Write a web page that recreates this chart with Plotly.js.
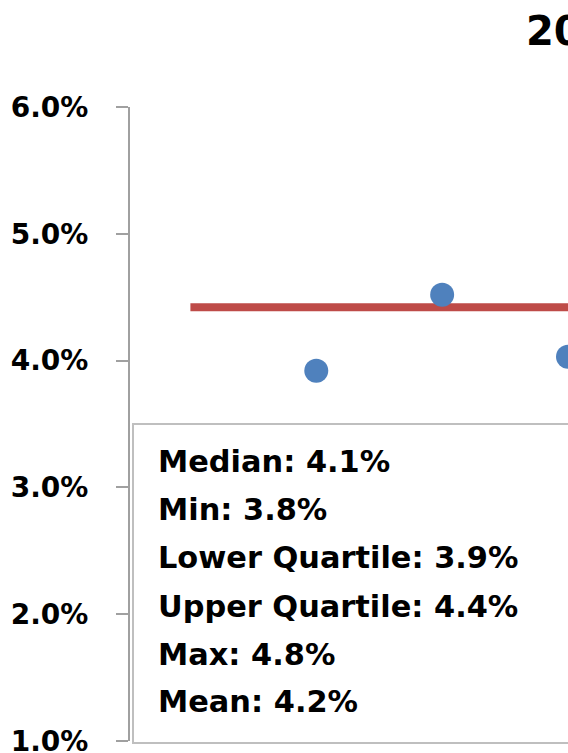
<!DOCTYPE html>
<html>
<head>
<meta charset="utf-8">
<script src="https://cdn.plot.ly/plotly-3.0.1.min.js"></script>
<style>
  html, body { margin: 0; padding: 0; overflow: hidden; background: #fff; }
  #chart { width: 568px; height: 753px; }
</style>
</head>
<body>
<div id="chart"></div>
<script>
// ---- data ----
var titleText = "20";
var pointX = [1, 2, 3];
var pointY = [3.92, 4.52, 4.03];
var lineX = [0, 3.6];
var lineY = [4.42, 4.42];
var tickVals = [1, 2, 3, 4, 5, 6];
var tickText = ["1.0%", "2.0%", "3.0%", "4.0%", "5.0%", "6.0%"];
var statLabels = ["Median", "Min", "Lower Quartile", "Upper Quartile", "Max", "Mean"];
var statValues = [4.1, 3.8, 3.9, 4.4, 4.8, 4.2];

// ---- layout helpers (pixel -> paper) ----
var W = 568, H = 753;
var mL = 130, mR = 0, mT = 107, mB = 12;
var pw = W - mL - mR, ph = H - mT - mB;
function px(x) { return (x - mL) / pw; }
function py(y) { return (H - mB - y) / ph; }

var font = "DejaVu Sans, Arial, sans-serif";

var traces = [
  {
    x: lineX, y: lineY, type: "scatter", mode: "lines",
    line: { color: "#BE4B48", width: 8 },
    hoverinfo: "skip"
  },
  {
    x: pointX, y: pointY, type: "scatter", mode: "markers",
    marker: { color: "#4F81BD", size: 24 },
    hoverinfo: "skip"
  }
];

var annotations = [{
  xref: "paper", yref: "paper", x: px(524), y: py(31),
  xanchor: "left", yanchor: "middle", showarrow: false,
  text: "<b>" + titleText + "</b>",
  font: { family: font, size: 40, color: "#000" }
}];
var lineYs = [461, 509, 557, 606, 654, 701];
for (var i = 0; i < statLabels.length; i++) {
  annotations.push({
    xref: "paper", yref: "paper", x: px(156), y: py(lineYs[i]),
    xanchor: "left", yanchor: "middle", showarrow: false,
    text: "<b>" + statLabels[i] + ": " + statValues[i].toFixed(1) + "%</b>",
    font: { family: font, size: 30.4, color: "#000" }
  });
}

var layout = {
  width: W, height: H,
  margin: { l: mL, r: mR, t: mT, b: mB, pad: 0 },
  paper_bgcolor: "#fff", plot_bgcolor: "#fff",
  showlegend: false,
  xaxis: {
    range: [-0.48, 3.0], showgrid: false, zeroline: false,
    showticklabels: false, ticks: "", showline: false
  },
  yaxis: {
    range: [1, 6], showgrid: false, zeroline: false,
    tickvals: tickVals, ticktext: tickText,
    ticks: "outside", ticklen: 12, tickwidth: 2, tickcolor: "#A0A0A0",
    showline: true, linecolor: "#A0A0A0", linewidth: 2,
    ticklabelstandoff: 22, ticklabeloverflow: "allow",
    tickfont: { family: font, size: 28, color: "#000", weight: "bold" }
  },
  shapes: [{
    type: "rect", xref: "paper", yref: "paper",
    x0: px(133), x1: 1.2, y0: py(743), y1: py(424),
    line: { color: "#BFBFBF", width: 2 }, fillcolor: "#fff", layer: "above"
  }],
  annotations: annotations
};

Plotly.newPlot("chart", traces, layout, { staticPlot: true, displayModeBar: false });
</script>
</body>
</html>
